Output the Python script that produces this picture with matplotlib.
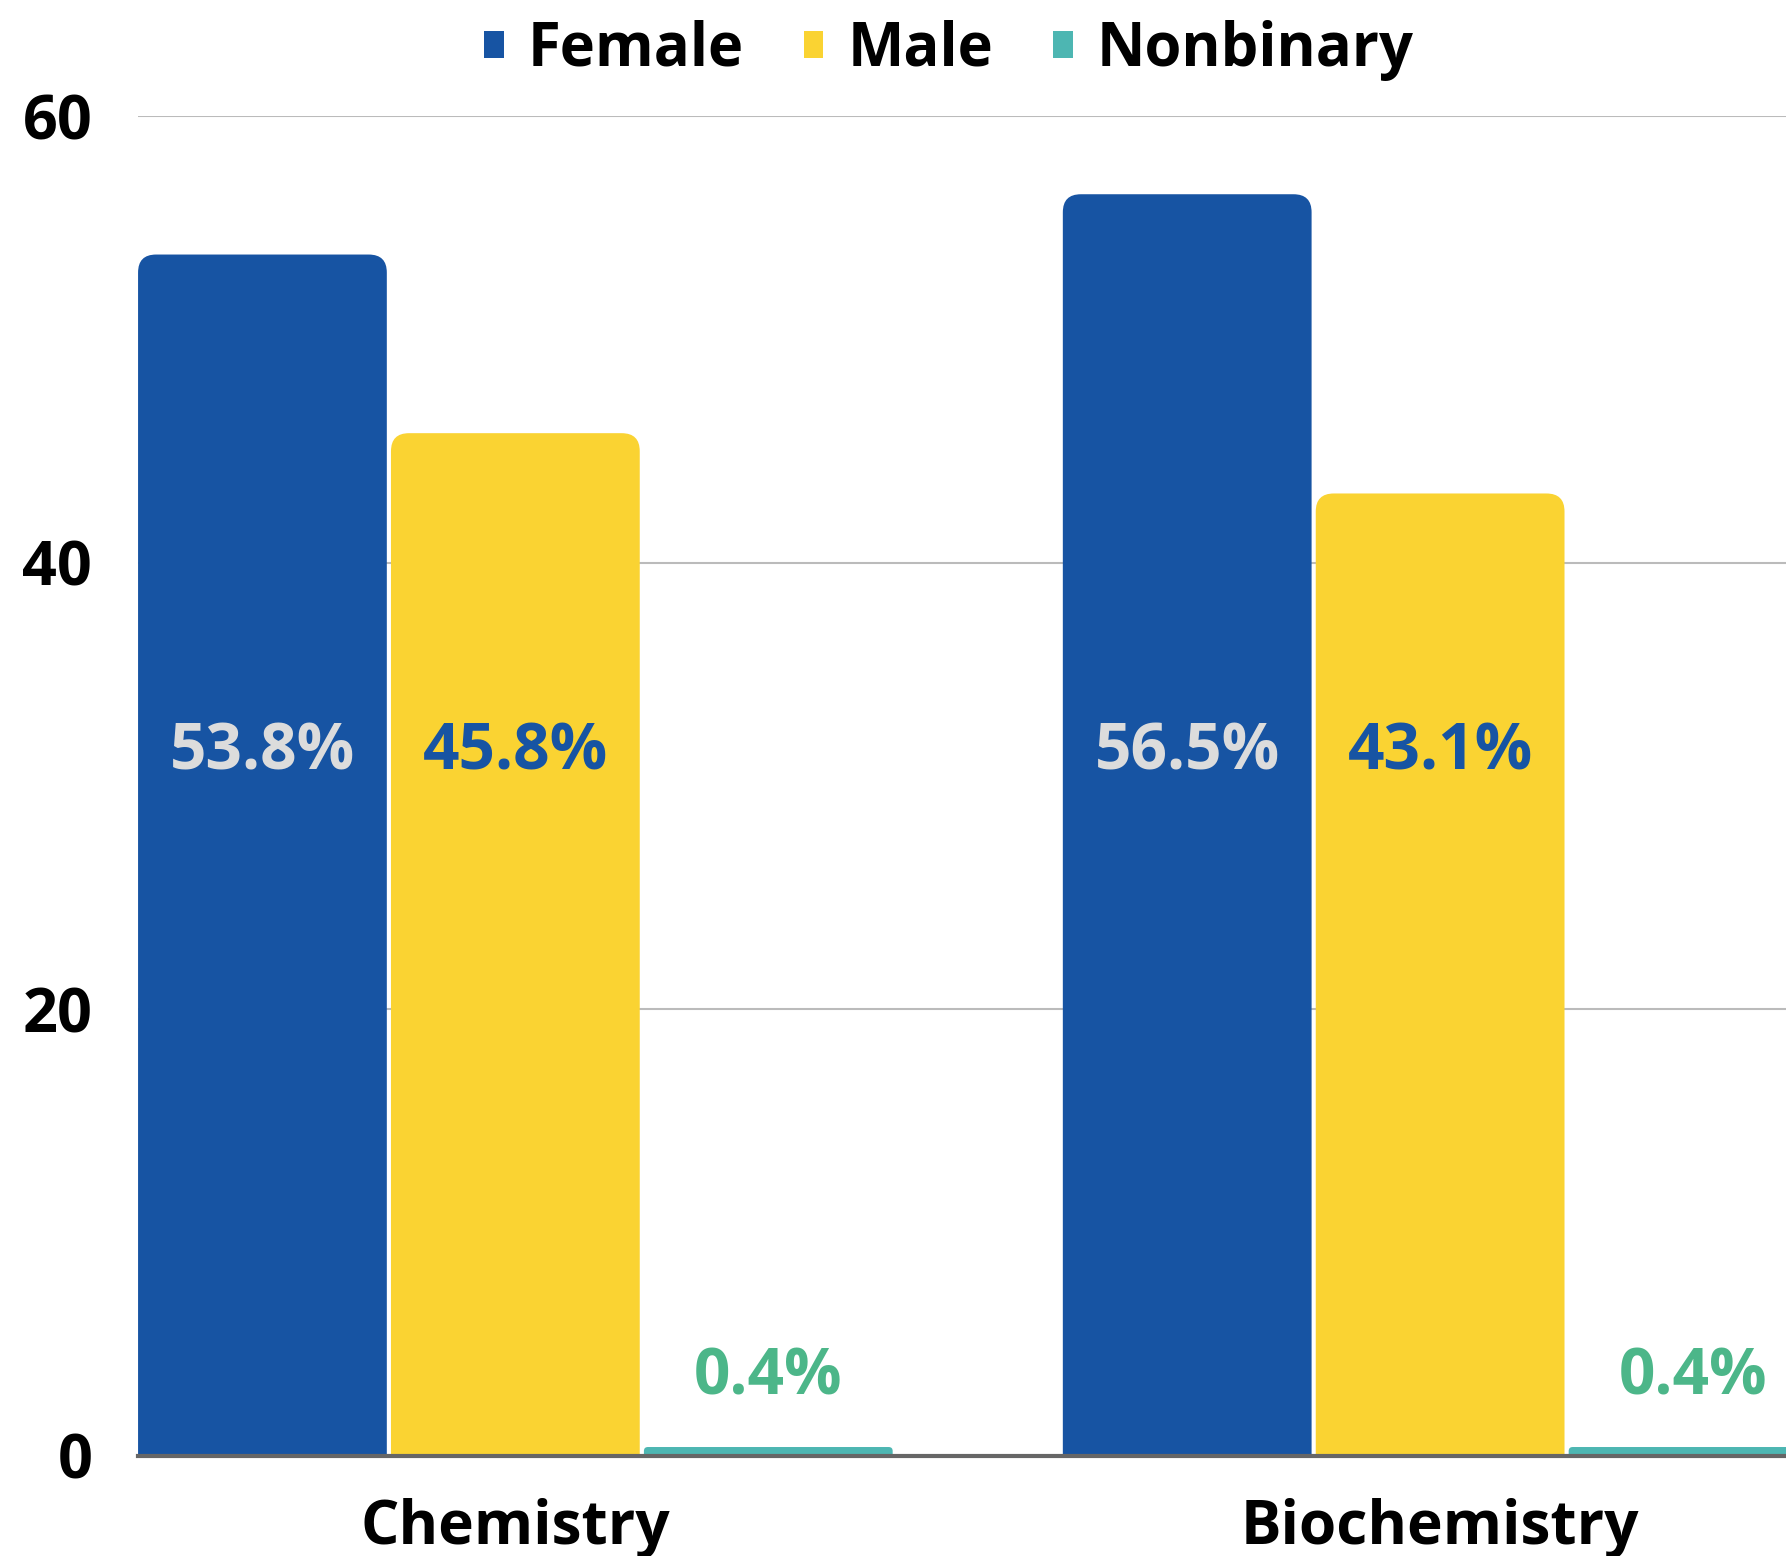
import matplotlib
matplotlib.use('Agg')
import matplotlib.pyplot as plt
from matplotlib.patches import FancyBboxPatch, Patch

plt.rcParams['font.family'] = ['Open Sans', 'DejaVu Sans']
plt.rcParams['font.weight'] = 'bold'

categories = ['Chemistry', 'Biochemistry']
series = ['Female', 'Male', 'Nonbinary']
female = [53.8, 56.5]
male = [45.8, 43.1]
nonbinary = [0.4, 0.4]
yticks = [0, 20, 40, 60]

colors = ['#1754a3', '#fad332', '#4db6b2']
label_colors = ['#dcdcdc', '#1754a3', '#4cb689']

fig = plt.figure(figsize=(17.86, 15.56), dpi=100)
ax = fig.add_axes([0.0773, 0.0643, 0.9227, 0.8611])

step = 0.2735
width = 0.269
r_x = 0.0195
aspect = 41.3

# bars with rounded tops (bottom hidden below the axis)
for s, (vals, col, lcol) in enumerate(zip([female, male, nonbinary], colors, label_colors)):
    for c, v in enumerate(vals):
        xc = c + (s - 1) * step
        ry = min(r_x * aspect, 0.45 * v)
        rx = ry / aspect
        p = FancyBboxPatch((xc - width / 2, -2), width, v + 2,
                           boxstyle=f'round,pad=0,rounding_size={rx}',
                           mutation_aspect=aspect, facecolor=col,
                           edgecolor='none', zorder=3)
        ax.add_patch(p)
        ly = 31.5 if s < 2 else 3.5
        ax.text(xc, ly, f'{v}%', ha='center', va='center', color=lcol,
                fontsize=46, fontweight='bold', zorder=4)

ax.set_xlim(-0.408, 1.374)
ax.set_ylim(0, 60)
ax.set_yticks(yticks)
ax.set_yticklabels([str(t) for t in yticks], fontsize=44, fontweight='bold')
ax.set_xticks(range(len(categories)))
ax.set_xticklabels(categories, fontsize=43.5, fontweight='bold')
ax.tick_params(axis='y', length=0, pad=33)
ax.tick_params(axis='x', length=0, pad=30)

ax.yaxis.grid(True, color='#bbbbbb', linewidth=1.5, zorder=0)
ax.set_axisbelow(True)
for side in ['top', 'right', 'left']:
    ax.spines[side].set_visible(False)
ax.spines['bottom'].set_color('#666666')
ax.spines['bottom'].set_linewidth(3)
ax.spines['bottom'].set_zorder(5)

handles = [Patch(facecolor=c, edgecolor='none', label=l) for c, l in zip(colors, series)]
ax.legend(handles=handles, loc='center', bbox_to_anchor=(0.492, 1.049), ncol=3,
          frameon=False, handlelength=0.33, handleheight=0.33,
          handletextpad=0.4, columnspacing=1.0,
          prop={'weight': 'bold', 'size': 43})

fig.savefig('out.png', dpi=100)
